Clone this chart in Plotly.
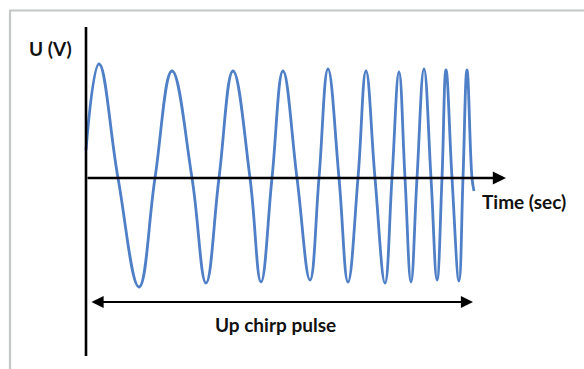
import plotly.graph_objects as go

# Chirp signal key points (time in arbitrary units, voltage in V)
time_pts = [0, 1.3, 3.2, 5.3, 6.9, 8.6, 10.6, 12.0, 13.3, 14.7, 16.4, 17.5, 18.6, 19.7,
            21.1, 22.4, 23.3, 24.2, 25.3, 26.2, 27.2, 28.0, 28.9, 29.9, 30.6, 31.3, 31.9,
            32.5, 33.1, 33.8, 34.5, 35.1, 35.6, 36.0, 36.6, 37.3, 37.7, 38.1, 38.6, 38.8]
volt_pts = [0.28, 1.14, 0, -1.09, 0, 1.07, 0, -1.05, 0, 1.07, 0, -1.04, 0, 1.07,
            0, -1.02, 0, 1.09, 0, -1.04, 0, 1.07, 0, -1.05, 0, 1.06, 0,
            -1.04, 0, 1.09, 0, -1.02, 0, 1.08, 0, -1.03, 0, 1.08, 0, -0.13]

y_label = "U (V)"
x_label = "Time (sec)"
pulse_label = "Up chirp pulse"

FONT = "Lato"
W, H = 584, 369

fig = go.Figure()
fig.add_trace(go.Scatter(
    x=time_pts, y=volt_pts, mode="lines",
    line=dict(color="#4f7fc6", width=2.8, shape="spline", smoothing=1.2),
    hoverinfo="skip", showlegend=False,
))

X0, X1 = -8.6, 49.8
Y0, Y1 = -1.91, 1.78

shapes = [
    # frame lines (gray)
    dict(type="line", xref="paper", yref="paper", x0=9/W, x1=1, y0=1-10.5/H, y1=1-10.5/H,
         line=dict(color="#c3c7c7", width=2.2)),
    dict(type="line", xref="paper", yref="paper", x0=10/W, x1=10/W, y0=1-10/H, y1=0,
         line=dict(color="#c3c7c7", width=2.2)),
    # vertical axis
    dict(type="line", xref="x", yref="y", x0=0, x1=0, y0=1.51, y1=-1.78,
         line=dict(color="black", width=2.6)),
]

annotations = [
    # horizontal time axis with arrow
    dict(x=42.0, y=0, ax=0, ay=0, axref="x", ayref="y", xref="x", yref="y",
         text="", showarrow=True, arrowhead=2, arrowsize=1.1, arrowwidth=2.4,
         arrowcolor="black", standoff=0, startstandoff=0),
    # double arrow for pulse length
    dict(x=38.7, y=-1.24, ax=0.4, ay=-1.24, axref="x", ayref="y", xref="x", yref="y",
         text="", showarrow=True, arrowhead=2, startarrowhead=2, arrowside="end+start",
         arrowsize=1.1, startarrowsize=1.1, arrowwidth=2.2, arrowcolor="black",
         standoff=0, startstandoff=0),
    dict(x=-3.6, y=1.30, xref="x", yref="y", text=f"<b>{y_label}</b>", showarrow=False,
         font=dict(family=FONT, size=19, color="#111")),
    dict(x=43.8, y=-0.23, xref="x", yref="y", text=f"<b>{x_label}</b>", showarrow=False,
         font=dict(family=FONT, size=19, color="#111")),
    dict(x=18.9, y=-1.46, xref="x", yref="y", text=f"<b>{pulse_label}</b>", showarrow=False,
         font=dict(family=FONT, size=19, color="#111")),
]

fig.update_layout(
    width=W, height=H,
    margin=dict(l=0, r=0, t=0, b=0),
    paper_bgcolor="white", plot_bgcolor="white",
    xaxis=dict(range=[X0, X1], visible=False, fixedrange=True),
    yaxis=dict(range=[Y0, Y1], visible=False, fixedrange=True),
    shapes=shapes, annotations=annotations,
    showlegend=False,
)

fig.write_html("out.html", config=dict(displayModeBar=False),
               post_script="document.body.style.margin='0';document.body.style.overflow='hidden';")
